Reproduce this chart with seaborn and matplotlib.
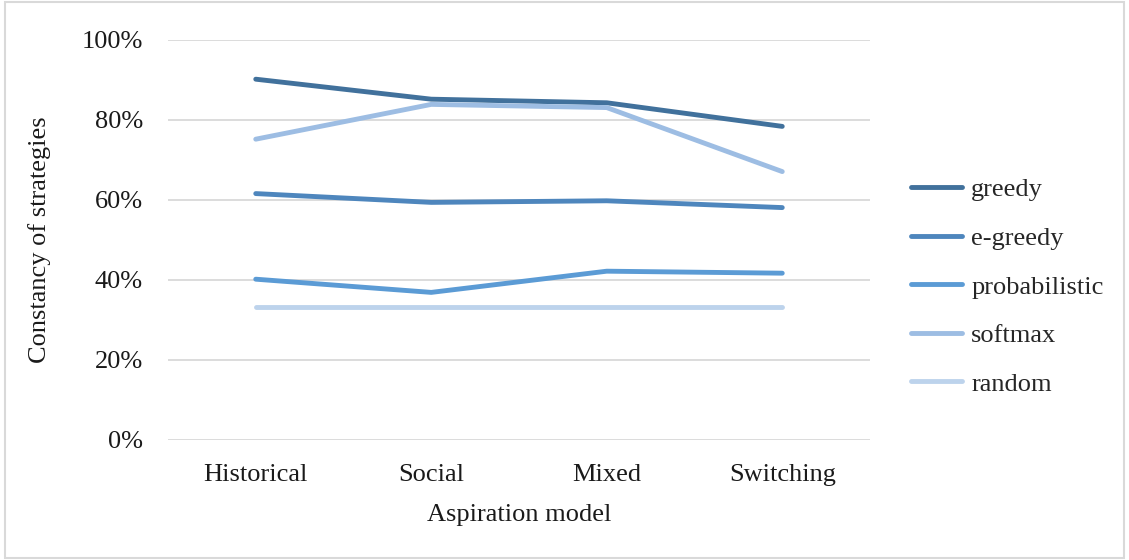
import numpy as np
import pandas as pd
import matplotlib
matplotlib.use("Agg")
import matplotlib.pyplot as plt
import seaborn as sns
from matplotlib.ticker import PercentFormatter
from matplotlib.patches import Rectangle

# Data (percent)
models = ["Historical", "Social", "Mixed", "Switching"]
greedy = [90.2, 85.2, 84.3, 78.4]
e_greedy = [61.6, 59.4, 59.8, 58.1]
probabilistic = [40.2, 36.9, 42.2, 41.7]
softmax = [75.2, 83.9, 83.1, 67.1]
random_ = [33.3, 33.3, 33.3, 33.3]

strategies = ["greedy", "e-greedy", "probabilistic", "softmax", "random"]
colors = ["#41719c", "#4e86bd", "#5b9bd5", "#9dbde3", "#bdd3ec"]

df = pd.DataFrame({
    "Aspiration model": models * 5,
    "Constancy": greedy + e_greedy + probabilistic + softmax + random_,
    "Strategy": [s for s in strategies for _ in models],
})

sns.set_theme(style="white")
plt.rcParams["font.family"] = ["Liberation Serif", "DejaVu Serif"]
fs = 19

fig = plt.figure(figsize=(11.29, 5.6), dpi=100)
ax = fig.add_axes([0.1488, 0.2143, 0.6218, 0.7143])

sns.lineplot(data=df, x="Aspiration model", y="Constancy", hue="Strategy",
             hue_order=strategies, palette=colors, linewidth=3.5,
             sort=False, ax=ax, solid_capstyle="round")

ax.set_ylim(0, 100)
ax.set_xlim(-0.5, 3.5)
ax.set_yticks(np.arange(0, 101, 20))
ax.yaxis.set_major_formatter(PercentFormatter(decimals=0))
ax.grid(axis="y", color="#d9d9d9", linewidth=1.3)
ax.set_axisbelow(True)
for sp in ax.spines.values():
    sp.set_visible(False)
ax.tick_params(axis="both", length=0, labelsize=fs, colors="#1a1a1a")
ax.tick_params(axis="y", pad=18)
ax.tick_params(axis="x", pad=17)
ax.set_xlabel("Aspiration model", fontsize=fs, color="#1a1a1a", labelpad=13)
ax.set_ylabel("Constancy of strategies", fontsize=fs, color="#1a1a1a", labelpad=22)

leg = ax.legend(loc="center left", bbox_to_anchor=(1.024, 0.383), frameon=False,
                fontsize=fs, handlelength=1.95, handletextpad=0.35,
                labelspacing=0.95, borderaxespad=0.5)
for line in leg.get_lines():
    line.set_linewidth(3.5)
    line.set_solid_capstyle("round")

fig.patches.append(Rectangle((0.004, 0.004), 0.992, 0.992, transform=fig.transFigure,
                             fill=False, edgecolor="#d9d9d9", linewidth=1.5))

fig.savefig("out.png", dpi=100)
